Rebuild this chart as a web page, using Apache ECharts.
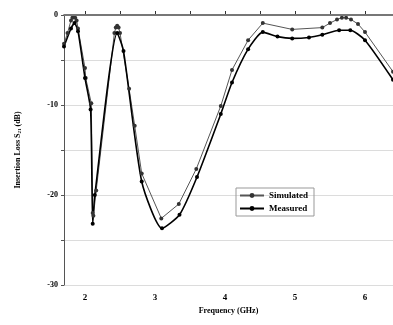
<!DOCTYPE html>
<html><head><meta charset="utf-8">
<script src="https://cdn.jsdelivr.net/npm/echarts@6/dist/echarts.min.js"></script>
<style>html,body{margin:0;padding:0;background:#fff}#c{width:393px;height:325px}</style>
</head><body><div id="c"></div>
<script>
const freqSim = [1.7,1.75,1.8,1.82,1.84,1.86,1.88,1.9,2.0,2.01,2.09,2.11,2.12,2.16,2.42,2.44,2.46,2.48,2.5,2.63,2.71,2.81,3.09,3.34,3.59,3.94,4.10,4.33,4.54,4.96,5.39,5.5,5.6,5.67,5.73,5.8,5.9,6.0,6.4];
const lossSim = [-3.2,-2.0,-0.6,-0.3,-0.2,-0.3,-0.6,-1.5,-5.9,-7.0,-9.8,-22.0,-22.3,-19.5,-2.0,-1.4,-1.2,-1.4,-2.0,-8.2,-12.3,-17.6,-22.6,-21.0,-17.1,-10.1,-6.1,-2.8,-0.9,-1.6,-1.4,-0.9,-0.5,-0.3,-0.3,-0.5,-1.0,-1.9,-6.3];
const freqMeas = [1.7,1.8,1.85,1.9,2.0,2.08,2.11,2.14,2.46,2.55,2.81,3.1,3.35,3.6,3.94,4.1,4.33,4.54,4.75,4.96,5.2,5.39,5.63,5.79,6.0,6.4];
const lossMeas = [-3.5,-1.5,-0.9,-1.8,-7.0,-10.5,-23.2,-20.0,-2.0,-4.0,-18.5,-23.7,-22.2,-18.0,-11.0,-7.5,-3.8,-1.9,-2.4,-2.6,-2.5,-2.2,-1.7,-1.7,-2.8,-7.2];
const xTickLabels = [2,3,4,5,6];
const xTicks = [2,2.5,3,3.5,4,4.5,5,5.5,6];
const seriesNames = ['Simulated','Measured'];

const font = '"Liberation Serif", serif';
const chart = echarts.init(document.getElementById('c'), null, {renderer:'canvas'});
chart.setOption({
  animation:false,
  backgroundColor:'#fff',
  grid:{left:64,right:0,top:15,bottom:40},
  legend:{
    orient:'vertical', left:236, top:188,
    itemWidth:24, itemHeight:6, itemGap:4,
    borderColor:'#999', borderWidth:1, padding:[3,6,3,3],
    textStyle:{fontFamily:font,fontWeight:'bold',fontSize:9,color:'#000'},
    data:seriesNames
  },
  xAxis:{
    type:'value', min:1.7, max:6.4,
    name:'Frequency (GHz)', nameLocation:'middle', nameGap:22,
    nameTextStyle:{fontFamily:font,fontWeight:'bold',fontSize:8,color:'#000'},
    axisLine:{show:true,lineStyle:{color:'#333',width:1.5}},
    axisTick:{show:true,inside:true,length:4,customValues:xTicks,lineStyle:{color:'#333'}},
    axisLabel:{customValues:xTickLabels,fontFamily:font,fontWeight:'bold',fontSize:9,color:'#000',margin:8},
    splitLine:{show:false}
  },
  yAxis:{
    type:'value', min:-30, max:0, interval:5,
    name:'Insertion Loss S{s|21} (dB)', nameLocation:'middle', nameGap:42, nameRotate:90,
    nameTextStyle:{fontFamily:font,fontWeight:'bold',fontSize:8,color:'#000',
      rich:{s:{fontFamily:font,fontWeight:'bold',fontSize:5,verticalAlign:'bottom',padding:[4,0,0,0]}}},
    axisLine:{show:true,lineStyle:{color:'#555',width:1}},
    axisTick:{show:true,length:3,lineStyle:{color:'#555'}},
    axisLabel:{fontFamily:font,fontWeight:'bold',fontSize:8,color:'#000',margin:6,
      formatter:v=> (v%10===0? String(v):'')},
    splitLine:{show:true,lineStyle:{color:'#dcdcdc',width:1}}
  },
  series:[
    {name:seriesNames[0],type:'line',data:freqSim.map((f,i)=>[f,lossSim[i]]),
     symbol:'circle',symbolSize:4,showAllSymbol:true,
     lineStyle:{color:'#555',width:1},itemStyle:{color:'#333'},
     markLine:{silent:true,symbol:'none',label:{show:false},data:[{yAxis:0}],
       lineStyle:{color:'#777',width:2,type:'solid'}}},
    {name:seriesNames[1],type:'line',data:freqMeas.map((f,i)=>[f,lossMeas[i]]),
     symbol:'circle',symbolSize:4,showAllSymbol:true,smooth:0.2,
     lineStyle:{color:'#000',width:1.6},itemStyle:{color:'#000'}}
  ]
});
</script></body></html>
